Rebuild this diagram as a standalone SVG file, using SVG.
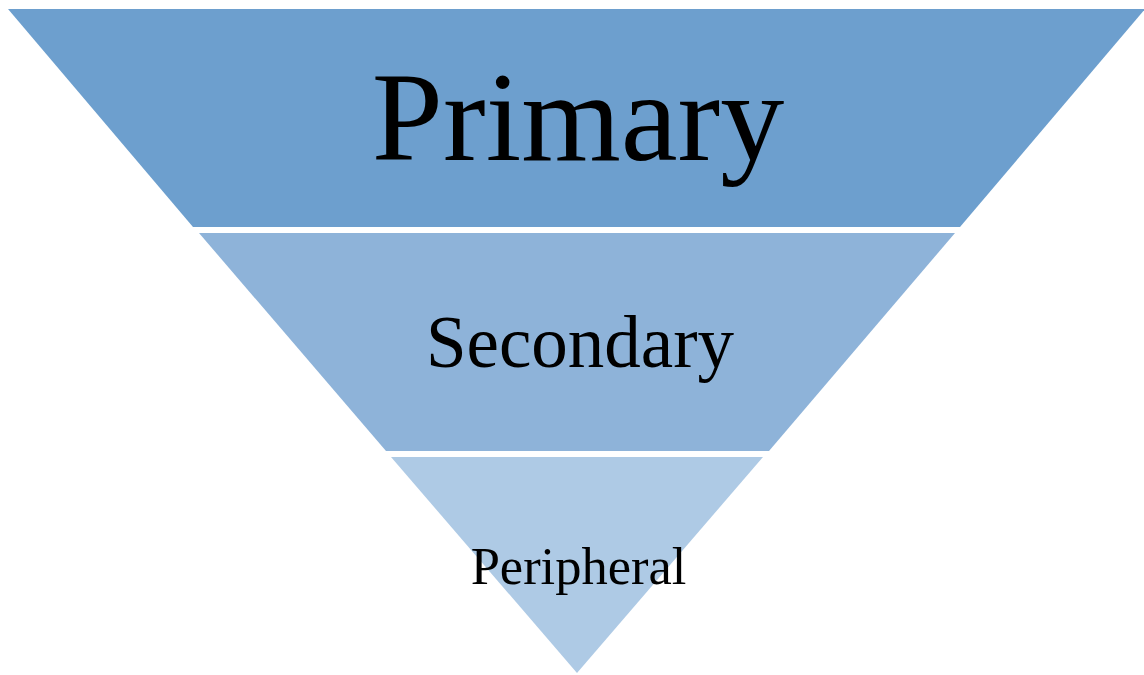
<svg xmlns="http://www.w3.org/2000/svg" width="1144" height="675" viewBox="0 0 1144 675">
<style>
text{font-family:"Liberation Serif","Times New Roman",serif;fill:#000;text-anchor:middle}
</style>
<rect width="1144" height="675" fill="#fff"/>
<g id="primary">
<polygon points="8,9 1145,9 960,227 193,227" fill="#6d9fce"/>
<text x="578" y="160" font-size="128">Primary</text>
</g>
<g id="secondary">
<polygon points="199,233 955,233 769,451 386,451" fill="#8eb3d9"/>
<text x="580" y="367" font-size="73">Secondary</text>
</g>
<g id="peripheral">
<polygon points="391,457 763,457 577,673" fill="#aecae5"/>
<text x="578.5" y="584" font-size="52.5">Peripheral</text>
</g>
<g id="connectors"/>
</svg>
